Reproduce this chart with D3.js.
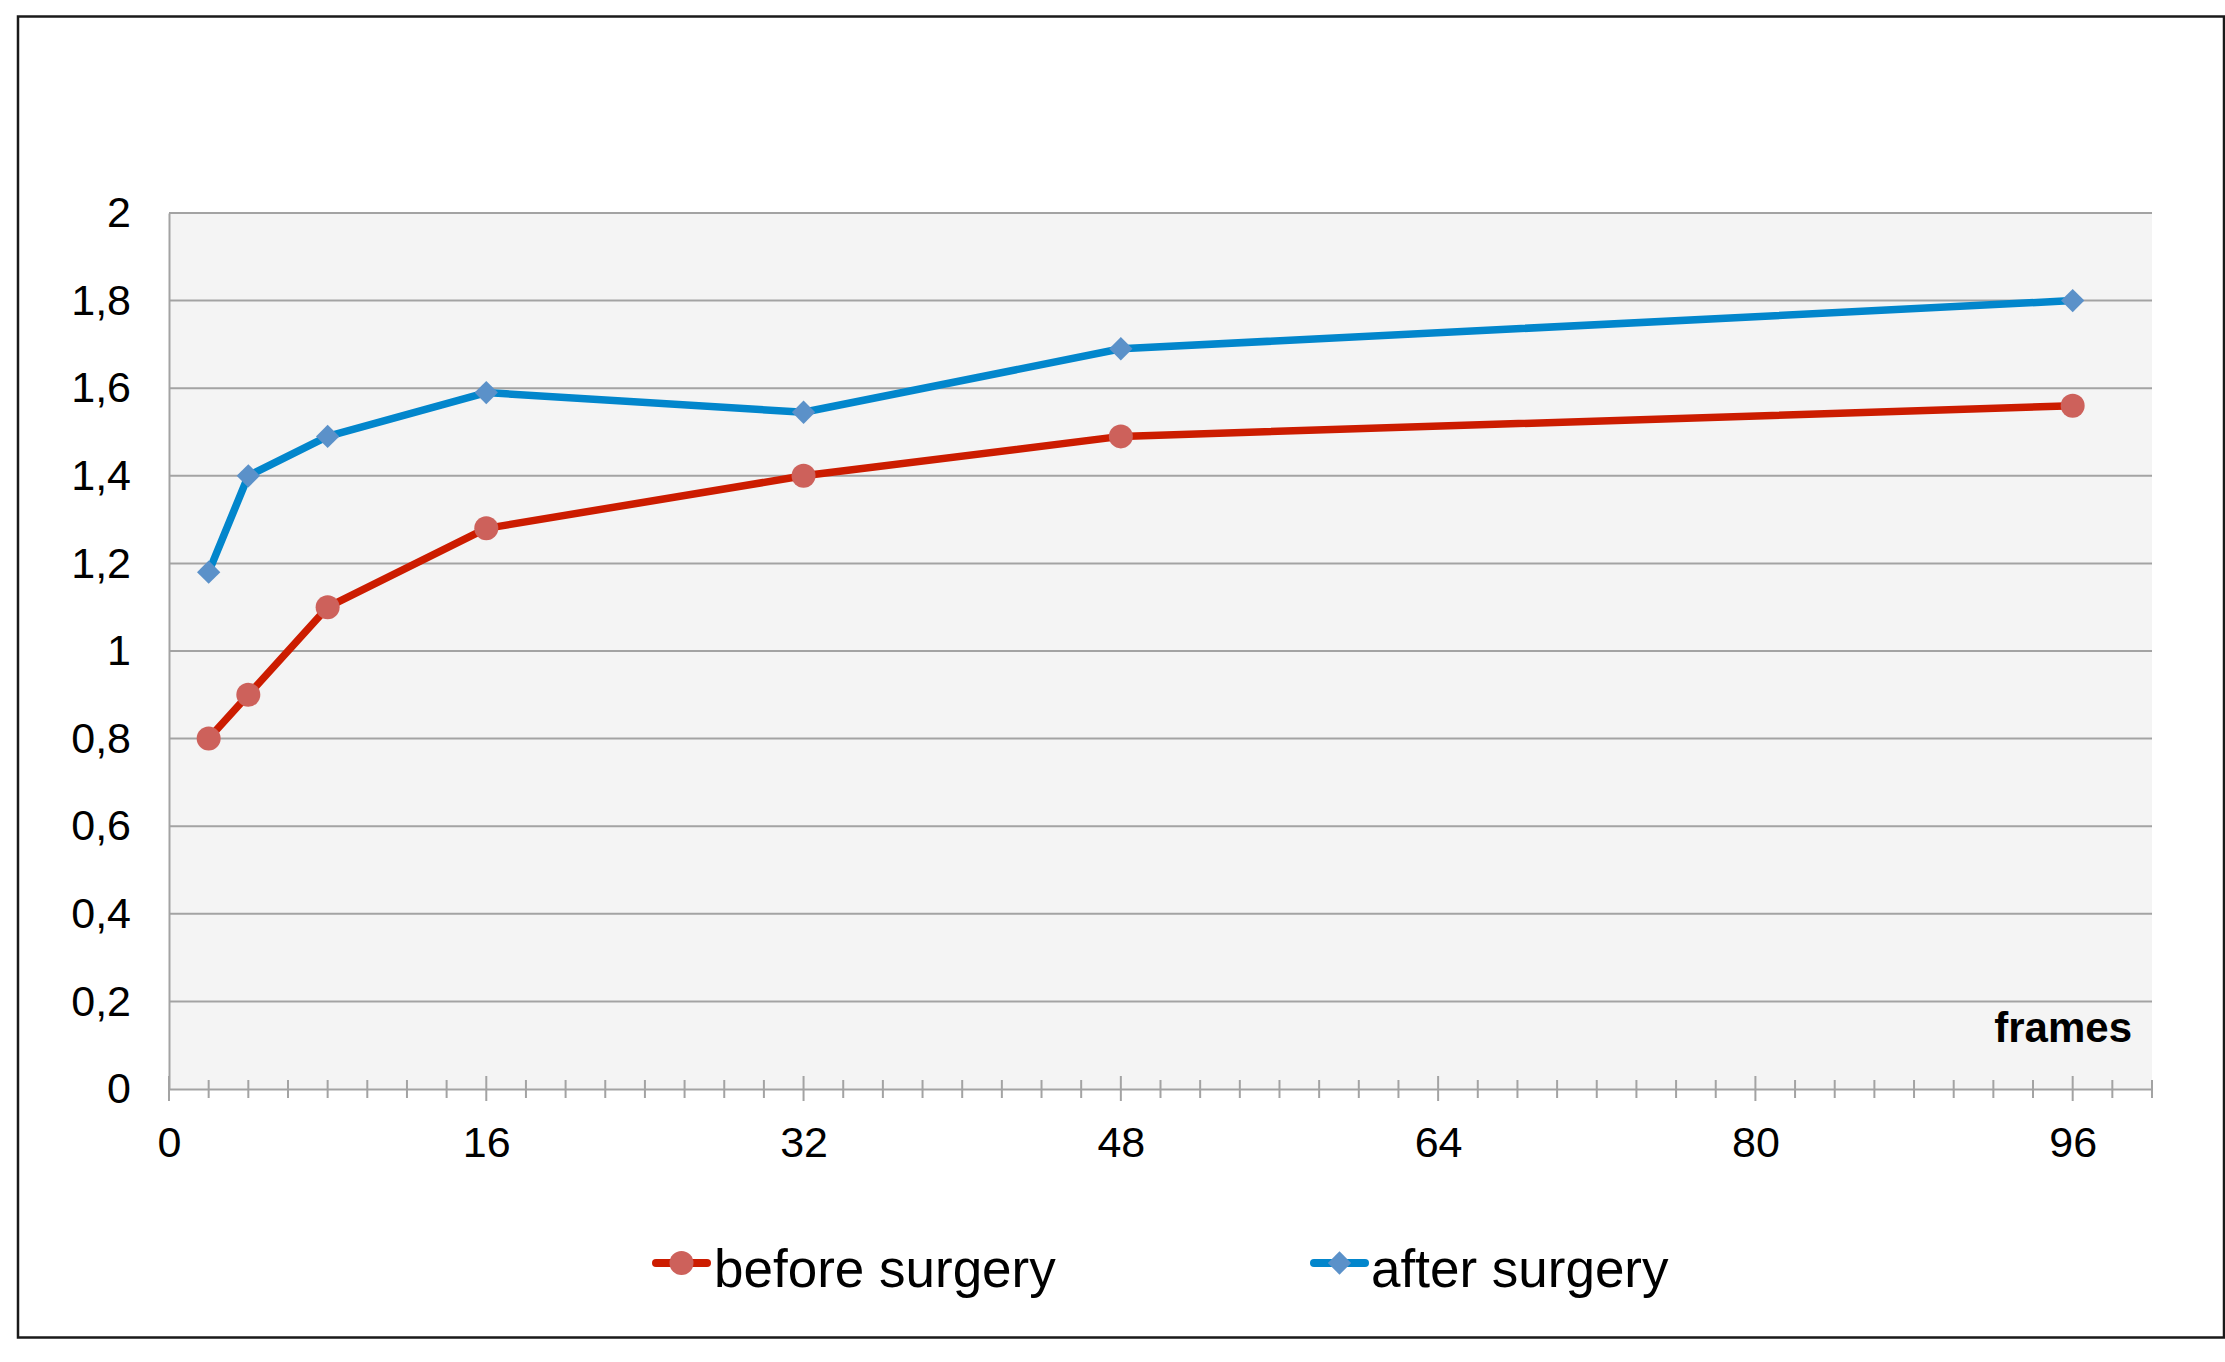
<!DOCTYPE html>
<html>
<head>
<meta charset="utf-8">
<script src="https://cdn.jsdelivr.net/npm/d3@7"></script>
<style>
    body { margin: 0; background: #fff; }
    text { font-family: "Liberation Sans", Arial, sans-serif; fill: #000; }
</style>
</head>
<body>
<div id="chart"></div>
<script>
// frames on the x axis, measured values on the y axis
var frames = [2, 4, 8, 16, 32, 48, 96];
var beforeSurgery = [0.80, 0.90, 1.10, 1.28, 1.40, 1.49, 1.56];
var afterSurgery = [1.18, 1.40, 1.49, 1.59, 1.545, 1.69, 1.80];
var xTicks = [0, 16, 32, 48, 64, 80, 96];
var yTicks = [0, 0.2, 0.4, 0.6, 0.8, 1, 1.2, 1.4, 1.6, 1.8, 2];
var yTickLabels = ['0', '0,2', '0,4', '0,6', '0,8', '1', '1,2', '1,4', '1,6', '1,8', '2'];
var seriesNames = ['before surgery', 'after surgery'];

var width = 2225,
    height = 1362,
    margin = { left: 169, top: 213, right: 73, bottom: 273 };

var chartWidth = width - margin.left - margin.right;
var chartHeight = height - margin.top - margin.bottom;

var series = [
    { name: seriesNames[0], values: beforeSurgery, line: '#cc1c00', marker: '#cd615b', symbol: 'circle' },
    { name: seriesNames[1], values: afterSurgery, line: '#0286cc', marker: '#5b91c9', symbol: 'diamond' }
];

var svg = d3.select('#chart').append('svg')
    .attr('width', width)
    .attr('height', height);

// outer frame
svg.append('rect')
    .attr('x', 18).attr('y', 16.5)
    .attr('width', 2206).attr('height', 1321)
    .attr('fill', 'none')
    .attr('stroke', '#1a1a1a')
    .attr('stroke-width', 2.5);

var xScale = d3.scaleLinear().domain([0, 100]).range([0, chartWidth]);
var yScale = d3.scaleLinear().domain([0, 2]).range([chartHeight, 0]);

var chartG = svg.append('g')
    .attr('transform', 'translate(' + margin.left + ',' + margin.top + ')');

// plot background
chartG.append('rect')
    .attr('width', chartWidth)
    .attr('height', chartHeight)
    .attr('fill', '#f4f4f4');

// horizontal grid lines
chartG.selectAll('.grid')
    .data(yTicks.slice(1))
    .enter().append('line')
    .attr('class', 'grid')
    .attr('x1', 0).attr('x2', chartWidth)
    .attr('y1', function (d) { return yScale(d); })
    .attr('y2', function (d) { return yScale(d); })
    .attr('stroke', '#a3a3a3')
    .attr('stroke-width', 2);

// y axis
var yAxis = d3.axisLeft(yScale)
    .tickValues(yTicks)
    .tickSize(0)
    .tickPadding(38)
    .tickFormat(function (d, i) { return yTickLabels[i]; });

var yG = chartG.append('g').attr('class', 'axis y').call(yAxis);
yG.select('.domain').attr('stroke', '#a3a3a3').attr('stroke-width', 2);
yG.selectAll('text').style('font-size', '43px').attr('fill', '#000');

// x axis (labels)
var xAxis = d3.axisBottom(xScale)
    .tickValues(xTicks)
    .tickSize(0)
    .tickPadding(37);

var xG = chartG.append('g')
    .attr('class', 'axis x')
    .attr('transform', 'translate(0,' + chartHeight + ')')
    .call(xAxis);
xG.select('.domain').attr('stroke', '#a3a3a3').attr('stroke-width', 2);
xG.selectAll('text').style('font-size', '43px').attr('fill', '#000');

// tick marks crossing the x axis, every 2 frames, longer at the labelled ones
xG.selectAll('.cross')
    .data(d3.range(0, 101, 2))
    .enter().append('line')
    .attr('class', 'cross')
    .attr('x1', function (d) { return xScale(d); })
    .attr('x2', function (d) { return xScale(d); })
    .attr('y1', function (d) { return d % 16 === 0 ? -13 : -9; })
    .attr('y2', function (d) { return d % 16 === 0 ? 12 : 9; })
    .attr('stroke', '#a3a3a3')
    .attr('stroke-width', 2);

// x axis title inside the plot
chartG.append('text')
    .attr('x', 1963)
    .attr('y', 829)
    .attr('text-anchor', 'end')
    .style('font-size', '42px')
    .style('font-weight', 'bold')
    .text('frames');

var line = d3.line()
    .x(function (d, i) { return xScale(frames[i]); })
    .y(function (d) { return yScale(d); });

var circle = d3.symbol().type(d3.symbolCircle).size(Math.PI * 12 * 12);
var diamond = d3.symbol().type(d3.symbolSquare).size(16.5 * 16.5);

function drawMarker(g, s, x, y) {
    g.append('path')
        .attr('d', s.symbol === 'circle' ? circle() : diamond())
        .attr('transform', 'translate(' + x + ',' + y + ')' + (s.symbol === 'diamond' ? ' rotate(45)' : ''))
        .attr('fill', s.marker);
}

series.forEach(function (s) {
    chartG.append('path')
        .attr('d', line(s.values))
        .attr('fill', 'none')
        .attr('stroke', s.line)
        .attr('stroke-width', 7.5)
        .attr('stroke-linejoin', 'round');

    s.values.forEach(function (v, i) {
        drawMarker(chartG, s, xScale(frames[i]), yScale(v));
    });
});

// legend
var legendX = [652, 1310];
series.forEach(function (s, i) {
    var g = svg.append('g').attr('transform', 'translate(' + legendX[i] + ',1263)');
    g.append('line')
        .attr('x1', 4).attr('x2', 55)
        .attr('stroke', s.line)
        .attr('stroke-width', 8)
        .attr('stroke-linecap', 'round');
    drawMarker(g, s, 29.5, 0);
    g.append('text')
        .attr('x', i === 0 ? 62 : 61)
        .attr('y', 24)
        .style('font-size', '53px')
        .text(s.name);
});
</script>
</body>
</html>
